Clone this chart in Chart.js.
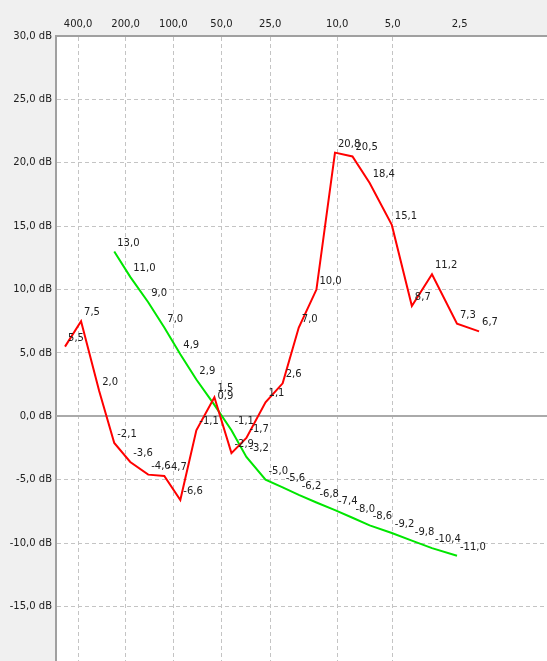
<!DOCTYPE html>
<html>
<head>
<meta charset="utf-8">
<script src="https://cdn.jsdelivr.net/npm/chart.js@4/dist/chart.umd.min.js"></script>
<style>
  html, body { margin: 0; padding: 0; background: #f0f0f0; }
  canvas { display: block; }
</style>
</head>
<body>
<canvas id="chart" width="547" height="661"></canvas>
<script>
// periods of the points
const periods = [484, 383, 294, 236, 187, 144, 114, 90.4, 71.7, 55.3, 43.3, 35.0,
  26.7, 21.0, 16.8, 13.2, 10.3, 8.2, 6.6, 5.05, 4.02, 3.25, 2.56, 2.13];
const redValues = [5.5, 7.5, 2.0, -2.1, -3.6, -4.6, -4.7, -6.6, -1.1, 1.5, -2.9, -1.7,
  1.1, 2.6, 7.0, 10.0, 20.8, 20.5, 18.4, 15.1, 8.7, 11.2, 7.3, 6.7];
// green line starts at the 4th period and stops at the 23rd
const greenStart = 3;
const greenValues = [13.0, 11.0, 9.0, 7.0, 4.9, 2.9, 0.9, -1.1, -3.2, -5.0, -5.6, -6.2,
  -6.8, -7.4, -8.0, -8.6, -9.2, -9.8, -10.4, -11.0];
const periodTicks = [400, 200, 100, 50, 25, 10, 5, 2.5];
const periodsWithGrid = [400, 200, 100, 50, 25, 10, 5];

// the top axis is stretched like ln(p - 1)
const toX = p => -Math.log(p - 1);
const fmt = v => v.toFixed(1).replace('.', ',');
const FONT = 'DejaVu Sans';

const redData = periods.map((p, i) => ({ x: toX(p), y: redValues[i] }));
const greenData = greenValues.map((v, i) => ({ x: toX(periods[greenStart + i]), y: v }));

const plotBg = {
  id: 'plotBg',
  beforeDraw(chart) {
    const { ctx, chartArea: a } = chart;
    ctx.save();
    ctx.fillStyle = '#ffffff';
    ctx.fillRect(a.left, a.top, a.right - a.left, a.bottom - a.top);
    ctx.restore();
  },
  beforeDatasetsDraw(chart) {
    // solid zero line
    const { ctx, chartArea: a } = chart;
    const y = Math.round(chart.scales.y.getPixelForValue(0));
    ctx.save();
    ctx.strokeStyle = '#aaaaaa';
    ctx.lineWidth = 2;
    ctx.beginPath();
    ctx.moveTo(a.left, y);
    ctx.lineTo(a.right, y);
    ctx.stroke();
    ctx.restore();
  }
};

const valueLabels = {
  id: 'valueLabels',
  afterDatasetsDraw(chart) {
    const { ctx } = chart;
    ctx.save();
    ctx.font = '10px "' + FONT + '"';
    ctx.fillStyle = '#202020';
    ctx.textAlign = 'left';
    ctx.textBaseline = 'alphabetic';
    chart.data.datasets.forEach((ds, di) => {
      const meta = chart.getDatasetMeta(di);
      meta.data.forEach((pt, i) => {
        ctx.fillText(fmt(ds.data[i].y), pt.x + 3, pt.y - 6);
      });
    });
    ctx.restore();
  }
};

const ctx = document.getElementById('chart').getContext('2d');
const chart = new Chart(ctx, {
  type: 'line',
  data: {
    datasets: [
      {
        label: 'red',
        data: redData,
        borderColor: '#ff0000',
        borderWidth: 2,
        pointRadius: 0,
        tension: 0,
        fill: false
      },
      {
        label: 'green',
        data: greenData,
        borderColor: '#00e600',
        borderWidth: 2,
        pointRadius: 0,
        tension: 0,
        fill: false
      }
    ]
  },
  options: {
    responsive: false,
    animation: false,
    layout: { padding: 0 },
    plugins: {
      legend: { display: false },
      tooltip: { enabled: false }
    },
    scales: {
      x: {
        type: 'linear',
        position: 'top',
        min: -6.312,
        max: 0.872,
        afterBuildTicks(scale) {
          scale.ticks = periodTicks.map(p => ({ value: toX(p) }));
        },
        afterFit(scale) {
          scale.height = 36;
          scale.paddingLeft = 0;
          scale.paddingRight = 0;
        },
        ticks: {
          padding: 6,
          color: '#202020',
          font: { family: FONT, size: 10 },
          maxRotation: 0,
          autoSkip: false,
          callback: (v, i) => fmt(periodTicks[i])
        },
        grid: {
          drawTicks: false,
          lineWidth: 1,
          color: c => periodsWithGrid.includes(periodTicks[c.index]) ? '#c4c4c4' : 'rgba(0,0,0,0)'
        },
        border: { display: true, color: '#a0a0a0', width: 2, dash: [4, 3] }
      },
      y: {
        min: -19.3,
        max: 30,
        afterFit(scale) {
          scale.width = 56;
          scale.paddingTop = 0;
          scale.paddingBottom = 0;
        },
        ticks: {
          stepSize: 5,
          includeBounds: false,
          padding: 4,
          color: '#202020',
          font: { family: FONT, size: 10 },
          callback: v => fmt(v) + ' dB'
        },
        grid: {
          drawTicks: false,
          lineWidth: 1,
          color: '#c4c4c4'
        },
        border: { display: true, color: '#a0a0a0', width: 2, dash: [4, 3] }
      }
    }
  },
  plugins: [plotBg, valueLabels]
});
</script>
</body>
</html>
